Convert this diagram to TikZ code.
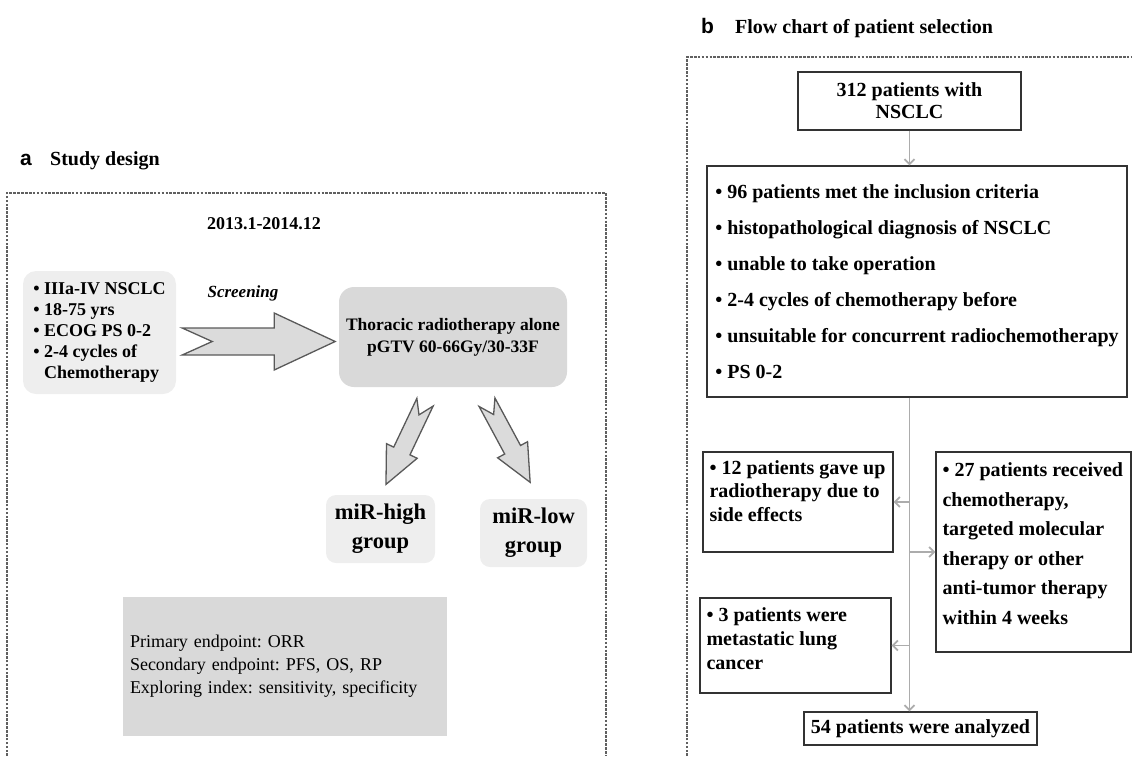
\documentclass[tikz,border=0pt]{standalone}
\usepackage{fontspec}
\setmainfont{Liberation Serif}
\newfontfamily\panelfont{Liberation Sans}
\usetikzlibrary{arrows.meta, positioning, calc}
\newcommand{\fsize}[2]{\fontsize{#1}{#2}\selectfont}
\frenchspacing

\begin{document}
\begin{tikzpicture}[x=1pt, y=-1pt,
  frame/.style={gray!75!black, line width=1.4pt, dash pattern=on 2.6pt off 1.3pt},
  panel/.style={font=\panelfont\fsize{21}{24}\bfseries, anchor=base west, inner sep=0pt},
  heading/.style={font=\fsize{20}{22}\bfseries, anchor=base west, inner sep=0pt},
  softbox/.style={rounded corners=13pt, fill=gray!13, inner sep=0pt},
  fatarrow/.style={draw=gray!70!black, fill=gray!28, line width=1.3pt},
  flowbox/.style={draw=black!80, line width=1.3pt, inner sep=0pt},
  flowtxt/.style={font=\fsize{20}{24}\bfseries, align=left, inner sep=0pt, anchor=north west},
  flow/.style={gray!65, line width=1.8pt, -{Straight Barb[length=5pt, width=10pt]}}]

  \useasboundingbox (0,0) rectangle (1132,756);

  % --- a: study design ---
  \node[panel] (alabel) at (20,165) {a};
  \node[heading] (atitle) at (50,165) {Study design};
  \draw[frame] (7,756) -- (7,193) -- (606,193) -- (606,756);

  \node[font=\fsize{18}{21}\bfseries] (period) at (264,224) {2013.1-2014.12};

  \node[softbox, minimum width=153pt, minimum height=123pt, align=left,
        font=\fsize{18}{21}\bfseries] (incl) at (99.5,332.5)
    {\textbullet\ IIIa-IV NSCLC\\\textbullet\ 18-75 yrs\\\textbullet\ ECOG PS 0-2\\
     \textbullet\ 2-4 cycles of\\\phantom{\textbullet\ }Chemotherapy};

  \node[softbox, fill=gray!30, rounded corners=15pt, minimum width=228pt, minimum height=100pt,
        align=center, font=\fsize{17.5}{22}\bfseries] (radio) at (453,337)
    {Thoracic radiotherapy alone\\pGTV 60-66Gy/30-33F};

  \node[font=\fsize{17}{20}\bfseries\itshape] (screen) at (243,293) {Screening};

  \draw[fatarrow, shift={([xshift=6pt, yshift=-9pt]incl.east)}]
    (0,-13.5) -- (92,-13.5) -- (92,-28.5) -- (153,0) -- (92,28.5) -- (92,13.5) -- (0,13.5) -- (30,0) -- cycle;

  % split arrows
  \draw[fatarrow, shift={([xshift=-28pt, yshift=-15pt]radio.south)}, rotate=244.6]
    (0,-9) -- (54,-9) -- (54,-17) -- (91,0) -- (54,17) -- (54,9) -- (0,9) -- (14,0) -- cycle;
  \draw[fatarrow, shift={([xshift=34pt, yshift=-15pt]radio.south)}, rotate=-61.7]
    (0,-9) -- (54,-9) -- (54,-17) -- (91,0) -- (54,17) -- (54,9) -- (0,9) -- (14,0) -- cycle;

  \node[softbox, rounded corners=10pt, minimum width=109pt, minimum height=68pt, align=center,
        font=\fsize{22.5}{29}\bfseries] (high) at (380.5,529) {miR-high\\group};
  \node[softbox, rounded corners=10pt, minimum width=107pt, minimum height=68pt, align=center,
        font=\fsize{22.5}{29}\bfseries] (low) at (533.5,533) {miR-low\\group};

  \node[fill=gray!30, minimum width=324pt, minimum height=139pt, text width=310pt, inner sep=0pt,
        align=left, font=\fsize{18}{23}] (endpts) at (285,666.5)
    {Primary endpoint: ORR\\Secondary endpoint: PFS, OS, RP\\Exploring index: sensitivity, specificity};

  % --- b: patient selection ---
  \node[panel] (blabel) at (701,33) {b};
  \node[heading] (btitle) at (735,33) {Flow chart of patient selection};
  \draw[frame] (687,756) -- (687,57) -- (1132,57);

  \node[flowbox, minimum width=223pt, minimum height=58pt, align=center,
        font=\fsize{20}{22}\bfseries] (total) at (909.5,101) {312 patients with\\NSCLC};
  \node[flowbox, minimum width=420pt, minimum height=231pt, align=left,
        font=\fsize{20}{36}\bfseries] (crit) at (917,281.5)
    {\textbullet\ 96 patients met the inclusion criteria\\
     \textbullet\ histopathological diagnosis of NSCLC\\
     \textbullet\ unable to take operation\\
     \textbullet\ 2-4 cycles of chemotherapy before\\
     \textbullet\ unsuitable for concurrent radiochemotherapy\\
     \textbullet\ PS 0-2};

  \node[flowbox, minimum width=190pt, minimum height=100pt] (gaveup) at (798,502) {};
  \node[flowtxt, font=\fsize{20}{23.5}\bfseries] (gaveuptxt) at ([xshift=7pt, yshift=-9pt]gaveup.north west)
    {\textbullet\ 12 patients gave up\\radiotherapy due to\\side effects};

  \node[flowbox, minimum width=195pt, minimum height=200pt] (other) at (1033.5,552) {};
  \node[flowtxt, font=\fsize{20}{29.6}\bfseries] (othertxt) at ([xshift=7pt, yshift=-11pt]other.north west)
    {\textbullet\ 27 patients received\\chemotherapy,\\targeted molecular\\therapy or other\\anti-tumor therapy\\within 4 weeks};

  \node[flowbox, minimum width=191pt, minimum height=95pt] (meta) at (795.5,645.5) {};
  \node[flowtxt] (metatxt) at ([xshift=7pt, yshift=-10pt]meta.north west)
    {\textbullet\ 3 patients were\\metastatic lung\\cancer};

  \node[flowbox, minimum width=233pt, minimum height=33pt,
        font=\fsize{20}{22}\bfseries] (done) at (920.5,728.5) {54 patients were analyzed};

  \draw[flow] (total.south) -- (total.south |- crit.north);
  \draw[flow] (total.south |- crit.south) -- (total.south |- done.north);
  \draw[flow] (total.south |- gaveup.east) -- (gaveup.east);
  \draw[flow] (total.south |- other.west) -- (other.west);
  \draw[flow] (total.south |- meta.east) -- (meta.east);
\end{tikzpicture}
\end{document}
